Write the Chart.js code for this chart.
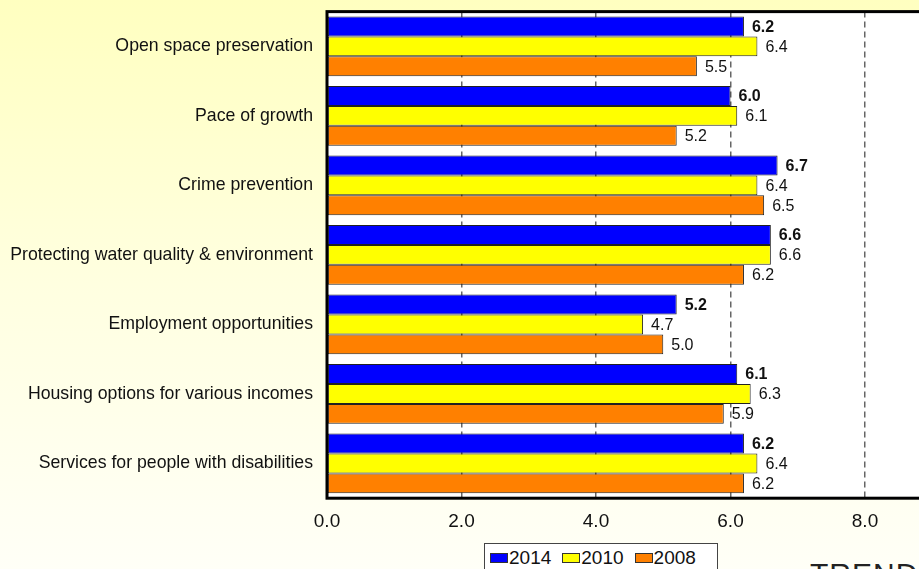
<!DOCTYPE html>
<html>
<head>
<meta charset="utf-8">
<script src="https://cdn.jsdelivr.net/npm/chart.js@4"></script>
<style>
  html, body {
    margin: 0;
    padding: 0;
    width: 919px;
    height: 569px;
    overflow: hidden;
    background: linear-gradient(to bottom, #ffffc0 0%, #ffffe0 50%, #fffff7 100%);
    font-family: Arial, "Liberation Sans", sans-serif;
  }
  #wrap {
    position: absolute;
    left: 0;
    top: -13px;
    width: 1030px;
    height: 560px;
  }
  #legend {
    position: absolute;
    left: 484px;
    top: 543px;
    width: 234px;
    height: 40px;
    border: 1px solid #444;
    background: #ffffff;
    display: flex;
    align-items: flex-start;
    padding: 3px 0 0 5px;
    box-sizing: border-box;
  }
  .item {
    display: flex;
    align-items: center;
    margin-right: 11px;
    font-size: 19px;
    color: #111;
    line-height: 21px;
  }
  .swatch {
    width: 18px;
    height: 10px;
    border: 1px solid #333;
    margin-right: 1px;
    box-sizing: border-box;
  }
  #trend {
    position: absolute;
    left: 810px;
    top: 557px;
    font-size: 30px;
    color: #222;
    letter-spacing: 1px;
    white-space: nowrap;
  }
</style>
</head>
<body>
<div id="wrap"><canvas id="chart"></canvas></div>
<div id="legend"></div>
<div id="trend">TRENDS</div>
<script>
const categories = [
  'Open space preservation',
  'Pace of growth',
  'Crime prevention',
  'Protecting water quality & environment',
  'Employment opportunities',
  'Housing options for various incomes',
  'Services for people with disabilities'
];
const years = ['2014', '2010', '2008'];
const values2014 = [6.2, 6.0, 6.7, 6.6, 5.2, 6.1, 6.2];
const values2010 = [6.4, 6.1, 6.4, 6.6, 4.7, 6.3, 6.4];
const values2008 = [5.5, 5.2, 6.5, 6.2, 5.0, 5.9, 6.2];
const xTicks = [0, 2, 4, 6, 8, 10];

const colors = ['#0000ff', '#ffff00', '#ff8000'];
const FONT = 'Arial, "Liberation Sans", sans-serif';

// white plot area with a heavy black frame
const plotFrame = {
  id: 'plotFrame',
  beforeDraw(chart) {
    const a = chart.chartArea;
    const ctx = chart.ctx;
    ctx.save();
    ctx.fillStyle = '#ffffff';
    ctx.fillRect(a.left, a.top, a.right - a.left, a.bottom - a.top);
    ctx.restore();
  },
  afterDraw(chart) {
    const a = chart.chartArea;
    const ctx = chart.ctx;
    ctx.save();
    ctx.strokeStyle = '#000';
    ctx.lineWidth = 3;
    ctx.strokeRect(a.left, a.top, a.right - a.left, a.bottom - a.top);
    ctx.restore();
  }
};

// value printed just past the end of every bar, 2014 in bold
const barValues = {
  id: 'barValues',
  afterDatasetsDraw(chart) {
    const ctx = chart.ctx;
    ctx.save();
    ctx.fillStyle = '#111';
    ctx.textBaseline = 'middle';
    ctx.textAlign = 'left';
    chart.data.datasets.forEach((ds, i) => {
      ctx.font = (i === 0 ? 'bold ' : '') + '16px ' + FONT;
      chart.getDatasetMeta(i).data.forEach((bar, j) => {
        ctx.fillText(ds.data[j].toFixed(1), bar.x + 8, bar.y + 1);
      });
    });
    ctx.restore();
  }
};

const seriesData = [values2014, values2010, values2008];

new Chart(document.getElementById('chart').getContext('2d'), {
  type: 'bar',
  data: {
    labels: categories,
    datasets: years.map((y, i) => ({
      label: y,
      data: seriesData[i],
      backgroundColor: colors[i],
      borderColor: '#222',
      borderWidth: 1,
      borderSkipped: false,
      categoryPercentage: 0.86,
      barPercentage: 1.0
    }))
  },
  options: {
    indexAxis: 'y',
    responsive: true,
    maintainAspectRatio: false,
    animation: false,
    layout: { padding: { top: 10, right: 12, bottom: 2, left: 0 } },
    plugins: {
      legend: { display: false },
      tooltip: { enabled: false }
    },
    scales: {
      x: {
        min: 0,
        max: 10,
        afterBuildTicks(scale) {
          scale.ticks = xTicks.map(v => ({ value: v }));
        },
        border: { display: false, dash: [6, 4] },
        grid: {
          color: '#666',
          lineWidth: 1.5,
          drawTicks: false
        },
        ticks: {
          padding: 12,
          color: '#111',
          font: { family: FONT, size: 19 },
          callback: v => Number(v).toFixed(1)
        }
      },
      y: {
        afterFit(scale) { scale.width = 327; },
        border: { display: false },
        grid: { display: false, drawTicks: false },
        ticks: {
          padding: 14,
          color: '#111',
          font: { family: FONT, size: 17.7 }
        }
      }
    }
  },
  plugins: [plotFrame, barValues]
});

// legend box below the axis
const legend = document.getElementById('legend');
years.forEach((y, i) => {
  const item = document.createElement('div');
  item.className = 'item';
  item.innerHTML = '<span class="swatch" style="background:' + colors[i] + '"></span>' + y;
  legend.appendChild(item);
});
</script>
</body>
</html>
